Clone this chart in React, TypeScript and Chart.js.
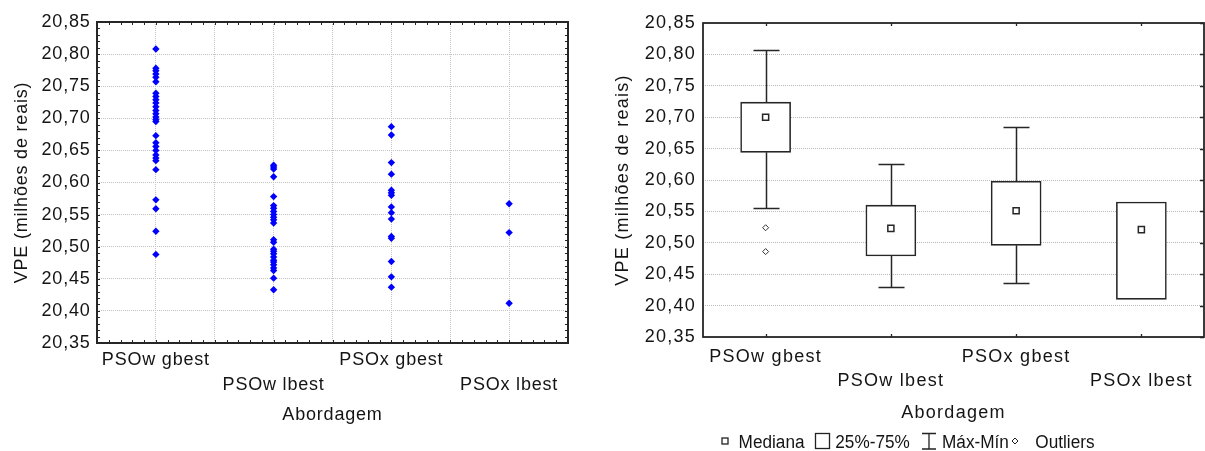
import React, { useEffect, useRef } from 'react';
import { Chart, registerables } from 'chart.js';

Chart.register(...registerables);

// ---- Data ---------------------------------------------------------------
const CATEGORIES = ['PSOw gbest', 'PSOw lbest', 'PSOx gbest', 'PSOx lbest'];
const Y_TICKS = [20.35, 20.4, 20.45, 20.5, 20.55, 20.6, 20.65, 20.7, 20.75, 20.8, 20.85];
const X_TITLE = 'Abordagem';
const Y_TITLE = 'VPE (milhões de reais)';

// Individual runs of each approach
const PSOW_GBEST = [
  20.808, 20.778, 20.774, 20.769, 20.764, 20.757, 20.739, 20.734, 20.729, 20.724,
  20.718, 20.712, 20.707, 20.702, 20.698, 20.695, 20.673, 20.662, 20.656, 20.65,
  20.643, 20.638, 20.634, 20.62, 20.573, 20.559, 20.524, 20.488,
];
const PSOW_LBEST = [
  20.627, 20.624, 20.621, 20.609, 20.578, 20.564, 20.56, 20.555, 20.55, 20.546,
  20.542, 20.537, 20.511, 20.507, 20.496, 20.493, 20.489, 20.484, 20.479, 20.476,
  20.472, 20.467, 20.463, 20.451, 20.433,
];
const PSOX_GBEST = [
  20.687, 20.674, 20.631, 20.613, 20.588, 20.584, 20.58, 20.562, 20.553, 20.543,
  20.516, 20.513, 20.477, 20.453, 20.437,
];
const PSOX_LBEST = [20.567, 20.522, 20.412];
const RUNS = [PSOW_GBEST, PSOW_LBEST, PSOX_GBEST, PSOX_LBEST];

// Box-plot summaries per approach
const BOX_MAX = [20.807, 20.625, 20.685, 20.565];
const BOX_Q3 = [20.724, 20.56, 20.598, 20.565];
const BOX_MEDIAN = [20.7, 20.523, 20.551, 20.521];
const BOX_Q1 = [20.644, 20.479, 20.496, 20.41];
const BOX_MIN = [20.556, 20.43, 20.436, 20.41];
const OUTLIER_CATEGORY = ['PSOw gbest', 'PSOw gbest'];
const OUTLIER_VALUE = [20.524, 20.486];

const LEGEND_LABELS = ['Mediana', '25%-75%', 'Máx-Mín', 'Outliers'];

// ---- Styling ------------------------------------------------------------
const FONT = "'Liberation Sans', Arial, Helvetica, sans-serif";
const INK = '#141414';
const FRAME = '#262626';

const fmt = (v: number) => v.toFixed(2).replace('.', ',');

// Category names alternate between two rows under the axis
const catLabel = (v: number) => {
  const i = Math.round(v) - 1;
  if (Math.abs(v - (i + 1)) > 1e-6 || !CATEGORIES[i]) return '';
  return i % 2 === 0 ? CATEGORIES[i] : ['', CATEGORIES[i]];
};

const catPos = (name: string) => CATEGORIES.indexOf(name) + 1;

const spacingPlugin = (px: number) => ({
  id: 'spacing',
  beforeUpdate: (c: any) => {
    c.ctx.letterSpacing = px + 'px';
  },
  beforeDraw: (c: any) => {
    c.ctx.letterSpacing = px + 'px';
  },
});

// Frame with fine inward tick marks on all four sides
const scatterFrame = {
  id: 'scatterFrame',
  afterDraw(c: any) {
    const { ctx, chartArea: a } = c;
    const xs = c.scales.x;
    const ys = c.scales.y;
    ctx.save();
    ctx.strokeStyle = FRAME;
    ctx.lineWidth = 1;
    ctx.beginPath();
    const ny = Math.round((ys.max - ys.min) / 0.01);
    for (let k = 0; k <= ny; k++) {
      const y = Math.round(ys.getPixelForValue(ys.min + k * 0.01)) + 0.5;
      ctx.moveTo(a.left, y);
      ctx.lineTo(a.left + 3, y);
      ctx.moveTo(a.right, y);
      ctx.lineTo(a.right - 3, y);
    }
    const nx = Math.round((xs.max - xs.min) / 0.1);
    for (let k = 0; k <= nx; k++) {
      const x = Math.round(xs.getPixelForValue(xs.min + k * 0.1)) + 0.5;
      ctx.moveTo(x, a.top);
      ctx.lineTo(x, a.top + 3);
      ctx.moveTo(x, a.bottom);
      ctx.lineTo(x, a.bottom - 3);
    }
    ctx.stroke();
    ctx.lineWidth = 2;
    ctx.strokeRect(a.left, a.top, a.right - a.left, a.bottom - a.top);
    ctx.restore();
  },
};

// Whiskers of the box plot
const whiskerPlugin = {
  id: 'whiskers',
  beforeDatasetsDraw(c: any) {
    const { ctx } = c;
    const xs = c.scales.x;
    const ys = c.scales.y;
    ctx.save();
    ctx.strokeStyle = FRAME;
    ctx.lineWidth = 1.5;
    ctx.beginPath();
    CATEGORIES.forEach((_, i) => {
      const x = Math.round(xs.getPixelForValue(i + 1)) + 0.5;
      const pairs = [
        [BOX_Q3[i], BOX_MAX[i]],
        [BOX_Q1[i], BOX_MIN[i]],
      ];
      pairs.forEach(([from, to]) => {
        if (Math.abs(from - to) < 1e-9) return;
        const y0 = ys.getPixelForValue(from);
        const y1 = Math.round(ys.getPixelForValue(to)) + 0.5;
        ctx.moveTo(x, y0);
        ctx.lineTo(x, y1);
        ctx.moveTo(x - 13, y1);
        ctx.lineTo(x + 13, y1);
      });
    });
    ctx.stroke();
    ctx.restore();
  },
};

// Frame, category ticks, right-side value ticks and the legend row
const boxFrame = {
  id: 'boxFrame',
  afterDraw(c: any) {
    const { ctx, chartArea: a } = c;
    const xs = c.scales.x;
    const ys = c.scales.y;
    ctx.save();
    ctx.letterSpacing = '0px';
    ctx.strokeStyle = FRAME;
    ctx.lineWidth = 1.3;
    ctx.beginPath();
    CATEGORIES.forEach((_, i) => {
      const x = Math.round(xs.getPixelForValue(i + 1)) + 0.5;
      ctx.moveTo(x, a.top);
      ctx.lineTo(x, a.top + 3);
      ctx.moveTo(x, a.bottom);
      ctx.lineTo(x, a.bottom - 3);
    });
    Y_TICKS.forEach((v) => {
      const y = Math.round(ys.getPixelForValue(v)) + 0.5;
      ctx.moveTo(a.right, y);
      ctx.lineTo(a.right - 4, y);
    });
    ctx.stroke();
    ctx.lineWidth = 1.8;
    ctx.strokeRect(a.left, a.top, a.right - a.left, a.bottom - a.top);

    // legend
    const lx = a.left;
    const cy = 441;
    const base = 447.5;
    ctx.lineWidth = 1.3;
    ctx.strokeStyle = '#222';
    ctx.fillStyle = '#fff';
    ctx.fillRect(lx + 19, cy - 3, 6, 6);
    ctx.strokeRect(lx + 19, cy - 3, 6, 6);
    ctx.strokeRect(lx + 112.5, 433.5, 14, 15);
    ctx.beginPath();
    ctx.moveTo(lx + 219, 433.5);
    ctx.lineTo(lx + 233, 433.5);
    ctx.moveTo(lx + 226, 433.5);
    ctx.lineTo(lx + 226, 449);
    ctx.moveTo(lx + 219, 449);
    ctx.lineTo(lx + 233, 449);
    ctx.stroke();
    ctx.lineWidth = 1;
    ctx.beginPath();
    const dx = lx + 312;
    ctx.moveTo(dx, cy - 3);
    ctx.lineTo(dx + 3, cy);
    ctx.lineTo(dx, cy + 3);
    ctx.lineTo(dx - 3, cy);
    ctx.closePath();
    ctx.stroke();

    ctx.fillStyle = INK;
    ctx.font = `18px ${FONT}`;
    ctx.textBaseline = 'alphabetic';
    ctx.textAlign = 'left';
    const textX = [35.6, 132.3, 239, 332.3];
    LEGEND_LABELS.forEach((t, i) => {
      ctx.save();
      ctx.translate(lx + textX[i], base);
      ctx.scale(0.955, 1);
      ctx.fillText(t, 0, 0);
      ctx.restore();
    });
    ctx.restore();
  },
};

const axisFont = (size: number, lineHeight: number) => ({ family: FONT, size, lineHeight });

// Keep the plot area fixed: no extra side room for overhanging labels
const noSidePadding = (s: any) => {
  s.paddingLeft = 0;
  s.paddingRight = 0;
};

function scatterConfig(): any {
  const halfSteps: number[] = [];
  for (let k = 0; k <= CATEGORIES.length * 2; k++) halfSteps.push(0.5 + k * 0.5);
  return {
    type: 'scatter',
    data: {
      datasets: RUNS.map((vals, i) => ({
        data: vals.map((v) => ({ x: i + 1, y: v })),
        pointStyle: 'rectRot',
        pointRadius: 3.7,
        pointBorderWidth: 0,
        pointBackgroundColor: '#0000ff',
        borderColor: '#0000ff',
        backgroundColor: '#0000ff',
      })),
    },
    options: {
      animation: false,
      responsive: true,
      maintainAspectRatio: false,
      devicePixelRatio: 1,
      events: [],
      layout: { autoPadding: false, padding: { top: 22, right: 22, left: 0, bottom: 0 } },
      plugins: { legend: { display: false }, tooltip: { enabled: false } },
      scales: {
        x: {
          type: 'linear',
          min: 0.5,
          max: 4.5,
          afterBuildTicks: (s: any) => {
            s.ticks = halfSteps.map((v) => ({ value: v }));
          },
          afterFit: (s: any) => {
            s.height = 108;
            noSidePadding(s);
          },
          grid: { color: '#c4c4c4', lineWidth: 1, drawTicks: false },
          border: { display: false, dash: [1, 1] },
          ticks: {
            autoSkip: false,
            maxRotation: 0,
            minRotation: 0,
            padding: 5.2,
            color: INK,
            font: axisFont(18, 1.36),
            callback: catLabel,
          },
          title: {
            display: true,
            text: X_TITLE,
            color: INK,
            font: axisFont(18, 1.2),
            padding: { top: 0, bottom: 24.7 },
          },
        },
        y: {
          type: 'linear',
          min: Y_TICKS[0],
          max: Y_TICKS[Y_TICKS.length - 1],
          afterBuildTicks: (s: any) => {
            s.ticks = Y_TICKS.map((v) => ({ value: v }));
          },
          afterFit: (s: any) => {
            s.width = 97;
          },
          grid: { color: '#c4c4c4', lineWidth: 1, drawTicks: false },
          border: { display: false, dash: [1, 1] },
          ticks: { padding: 6.4, color: INK, font: axisFont(18, 1.2), callback: (v: number) => fmt(v) },
          title: {
            display: true,
            text: Y_TITLE,
            color: INK,
            font: axisFont(18, 1.2),
            padding: { top: 11, bottom: 0 },
          },
        },
      },
    },
    plugins: [spacingPlugin(0.8), scatterFrame],
  };
}

function boxConfig(): any {
  return {
    type: 'bar',
    data: {
      datasets: [
        {
          type: 'bar',
          data: CATEGORIES.map((_, i) => ({ x: i + 1, y: [BOX_Q1[i], BOX_Q3[i]] })),
          backgroundColor: '#ffffff',
          borderColor: FRAME,
          borderWidth: 1.6,
          borderSkipped: false,
          barThickness: 50,
          order: 3,
        },
        {
          type: 'scatter',
          data: CATEGORIES.map((_, i) => ({ x: i + 1, y: BOX_MEDIAN[i] })),
          pointStyle: 'rect',
          pointRadius: 4.3,
          pointBorderWidth: 1.5,
          pointBorderColor: FRAME,
          pointBackgroundColor: '#ffffff',
          order: 1,
        },
        {
          type: 'scatter',
          data: OUTLIER_VALUE.map((v, i) => ({ x: catPos(OUTLIER_CATEGORY[i]), y: v })),
          pointStyle: 'rectRot',
          pointRadius: 3,
          pointBorderWidth: 1,
          pointBorderColor: '#333333',
          pointBackgroundColor: '#ffffff',
          order: 1,
        },
      ],
    },
    options: {
      animation: false,
      responsive: true,
      maintainAspectRatio: false,
      devicePixelRatio: 1,
      events: [],
      layout: { autoPadding: false, padding: { top: 23, right: 1, left: 0, bottom: 0 } },
      plugins: { legend: { display: false }, tooltip: { enabled: false } },
      scales: {
        x: {
          type: 'linear',
          offset: false,
          min: 0.5,
          max: 4.5,
          afterBuildTicks: (s: any) => {
            s.ticks = CATEGORIES.map((_, i) => ({ value: i + 1 }));
          },
          afterFit: (s: any) => {
            s.height = 114;
            noSidePadding(s);
          },
          grid: { display: false, drawTicks: false },
          border: { display: false },
          ticks: {
            autoSkip: false,
            maxRotation: 0,
            minRotation: 0,
            padding: 7.8,
            color: INK,
            font: axisFont(18, 1.3333),
            callback: catLabel,
          },
          title: {
            display: true,
            text: X_TITLE,
            color: INK,
            font: axisFont(18, 1.2),
            padding: { top: 0, bottom: 27.2 },
          },
        },
        y: {
          type: 'linear',
          min: Y_TICKS[0],
          max: Y_TICKS[Y_TICKS.length - 1],
          afterBuildTicks: (s: any) => {
            s.ticks = Y_TICKS.map((v) => ({ value: v }));
          },
          afterFit: (s: any) => {
            s.width = 113;
          },
          grid: { color: '#b8b8b8', lineWidth: 1, drawTicks: false },
          border: { display: false, dash: [1, 1] },
          ticks: { padding: 7, color: INK, font: axisFont(18, 1.2), callback: (v: number) => fmt(v) },
          title: {
            display: true,
            text: Y_TITLE,
            color: INK,
            font: axisFont(18, 1.2),
            padding: { top: 22.5, bottom: 0 },
          },
        },
      },
    },
    plugins: [spacingPlugin(1.25), whiskerPlugin, boxFrame],
  };
}

export default function App() {
  const leftRef = useRef<HTMLCanvasElement>(null);
  const rightRef = useRef<HTMLCanvasElement>(null);

  useEffect(() => {
    const left = new Chart(leftRef.current as HTMLCanvasElement, scatterConfig());
    const right = new Chart(rightRef.current as HTMLCanvasElement, boxConfig());
    return () => {
      left.destroy();
      right.destroy();
    };
  }, []);

  return (
    <div style={{ position: 'absolute', left: 0, top: 0, width: 1205, height: 451, background: '#ffffff' }}>
      <div style={{ position: 'absolute', left: 0, top: 0, width: 590, height: 451 }}>
        <canvas ref={leftRef} />
      </div>
      <div style={{ position: 'absolute', left: 590, top: 0, width: 615, height: 451 }}>
        <canvas ref={rightRef} />
      </div>
    </div>
  );
}
